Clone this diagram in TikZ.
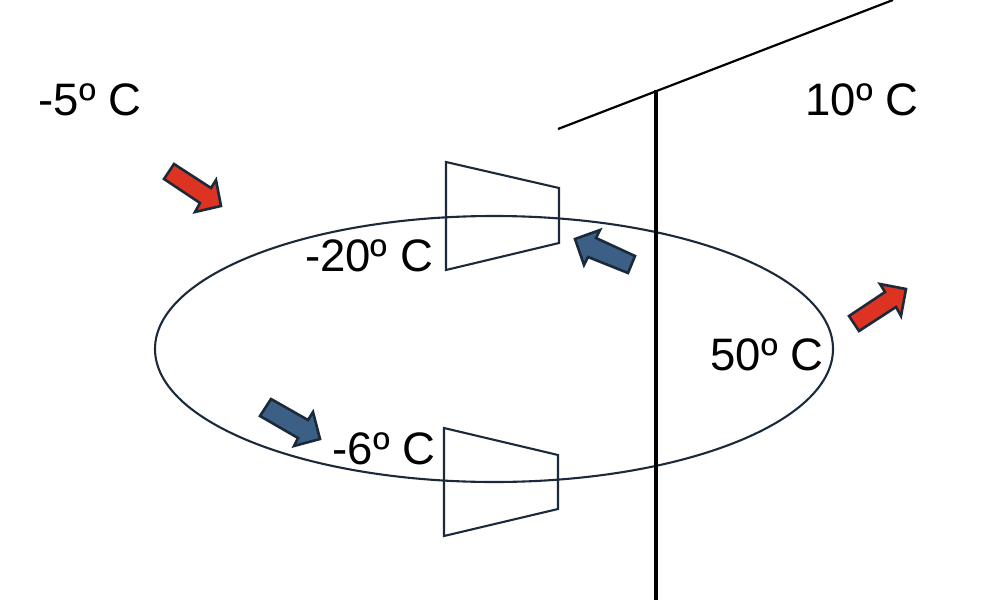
\documentclass[tikz,border=0pt]{standalone}
\usepackage{fontspec}
\setmainfont{Liberation Sans}
\definecolor{ink}{HTML}{1B2A3A}
\definecolor{redfill}{HTML}{DC3322}
\definecolor{bluefill}{HTML}{3B5F85}
\tikzset{
  outline/.style={draw=ink,line width=2.1pt},
  arrowshape/.style={draw=ink,line width=2.6pt,miter limit=3},
  heat/.style={arrowshape,fill=redfill},
  cold/.style={arrowshape,fill=bluefill},
  temp/.style={inner sep=0pt,text=black,font=\fontsize{45.5}{45.5}\selectfont,anchor=center}
}
\begin{document}
\begin{tikzpicture}[x=1pt,y=-1pt]
\useasboundingbox (0,0) rectangle (984,607);
\draw[outline] (494,349) ellipse [x radius=339,y radius=133];
\draw[outline] (446,162) -- (559,188) -- (559,243) -- (446,270) -- cycle;
\draw[outline] (444,428) -- (558,455) -- (558,509) -- (444,536) -- cycle;
\draw[black,line width=4.5pt] (656,90) -- (656,600);
\draw[black,line width=2.2pt] (558,129) -- (893,0);
\draw[heat] (174,164) -- (164,179) -- (200,203) -- (195,212) -- (221,206) -- (216,180) -- (211,188) -- cycle;
\draw[cold] (575,239) -- (600,230) -- (596,238) -- (635,256) -- (628,273) -- (588,257) -- (584,265) -- cycle;
\draw[heat] (849,316) -- (859,331) -- (896,307) -- (901,316) -- (906,289) -- (880,284) -- (885,292) -- cycle;
\draw[cold] (271,399) -- (260,416) -- (298,438) -- (294,446) -- (320,439) -- (313,412) -- (308,420) -- cycle;
\node[temp] (outcold) at (90,100) {-5º C};
\node[temp] (outwarm) at (862,100) {10º C};
\node[temp] (evap) at (369,256) {-20º C};
\node[temp] (cond) at (767,355) {50º C};
\node[temp] (suction) at (384,449) {-6º C};
\end{tikzpicture}
\end{document}
